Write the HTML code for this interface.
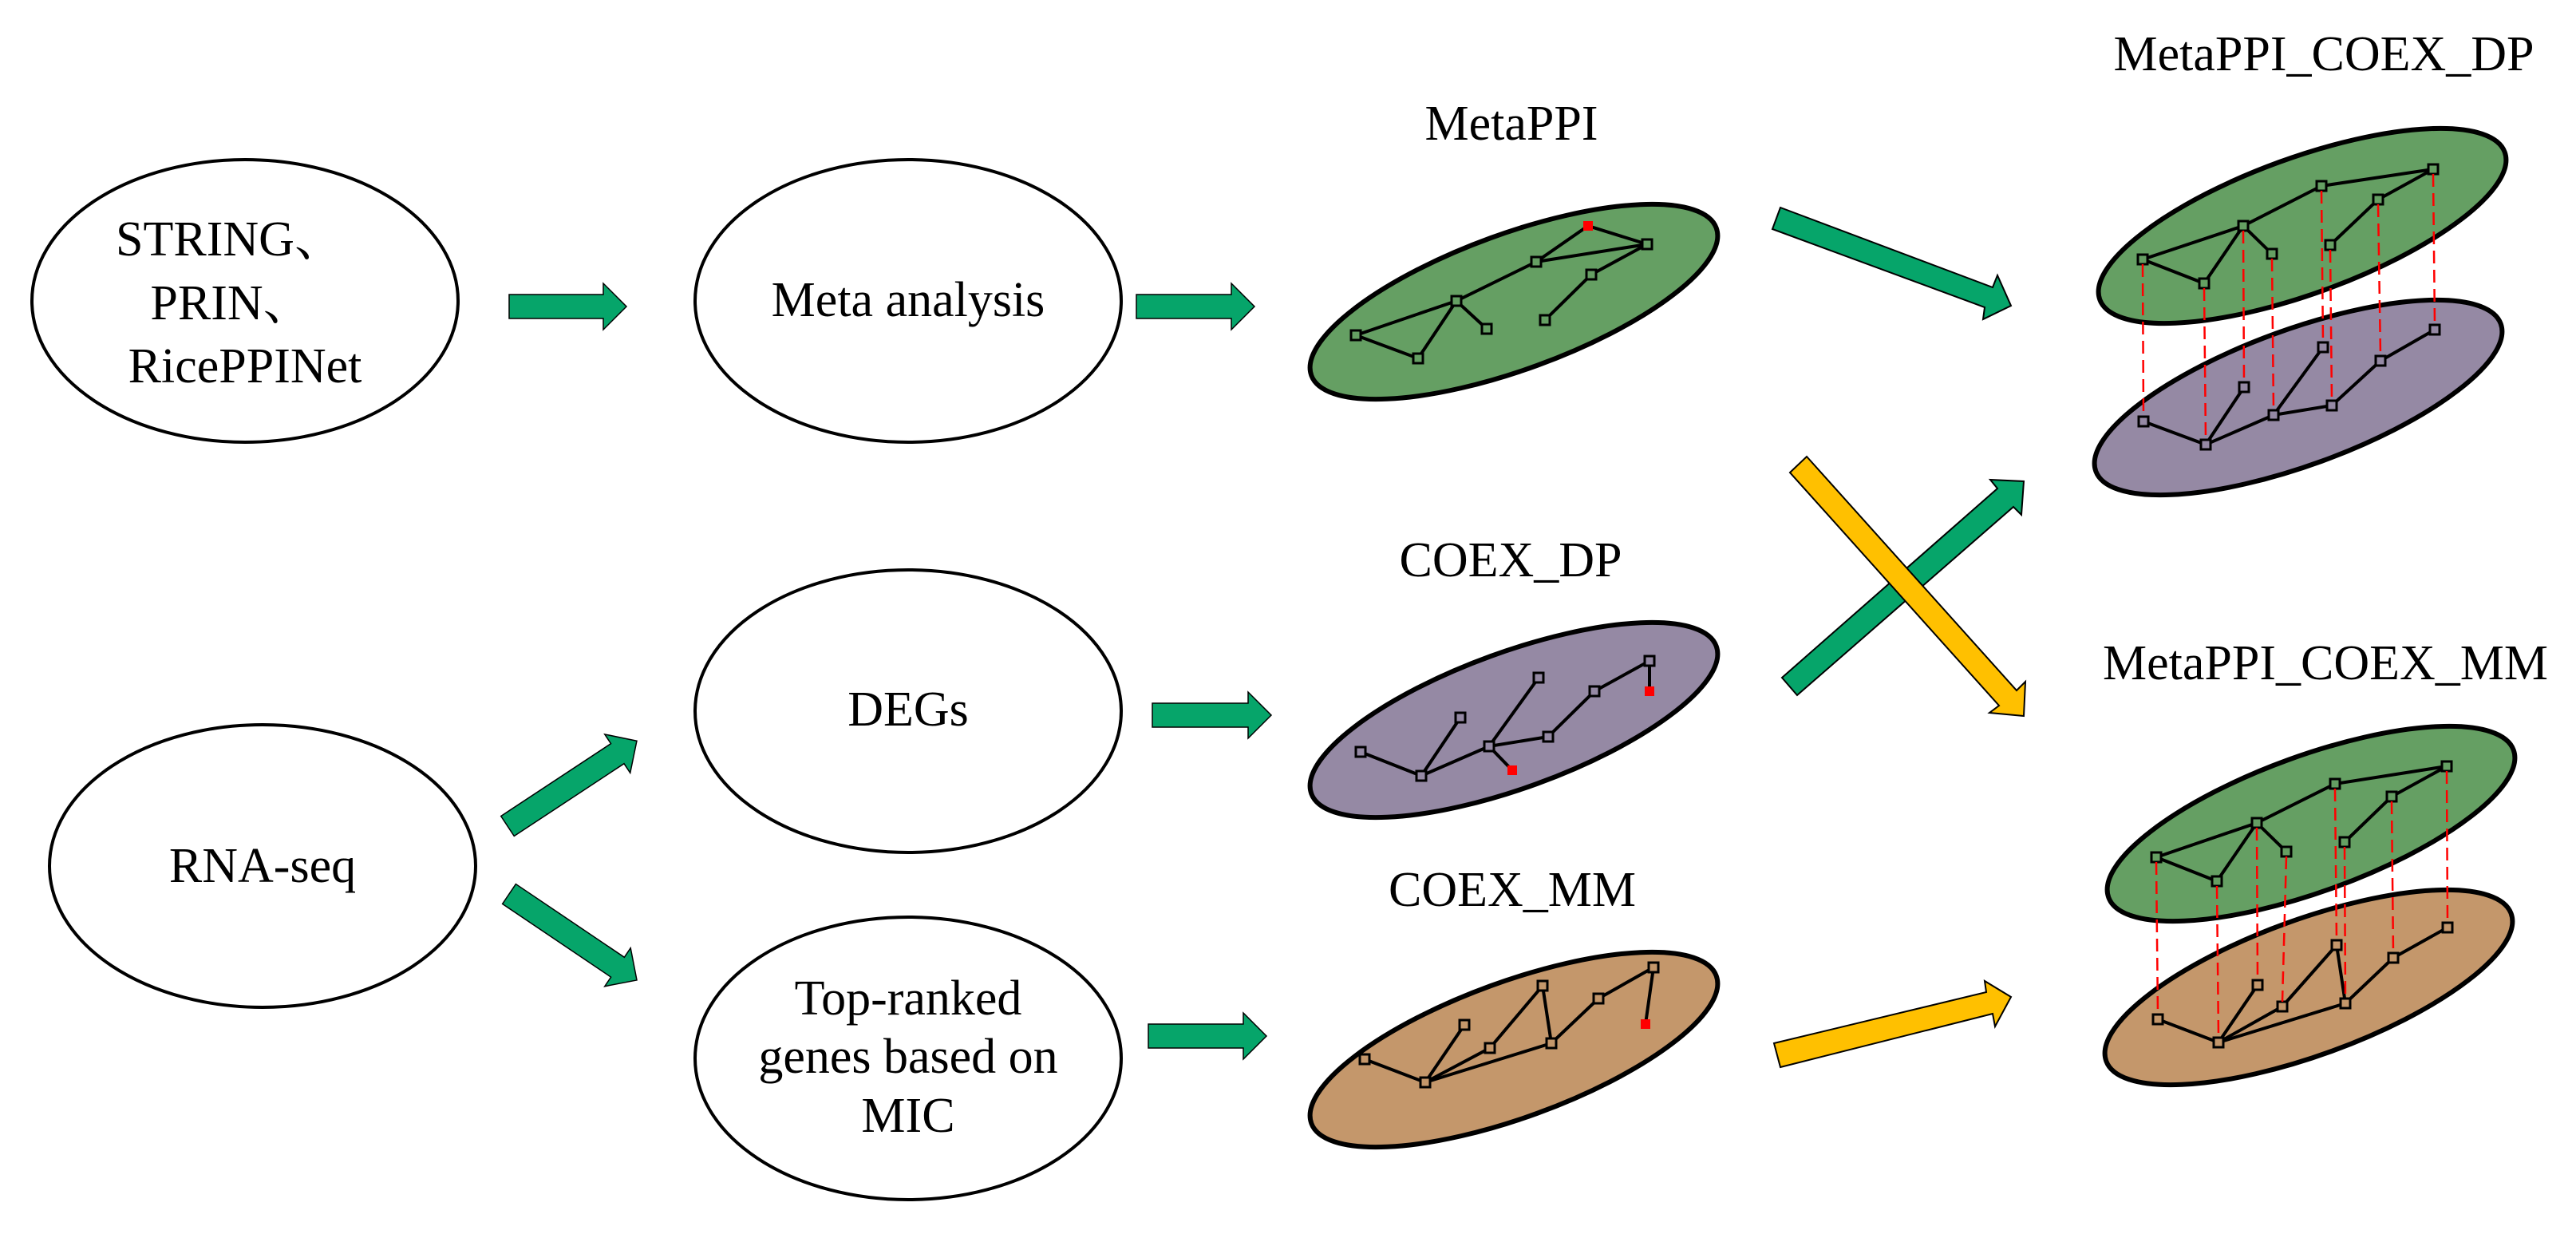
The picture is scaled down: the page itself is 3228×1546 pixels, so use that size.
<!DOCTYPE html>
<html><head><meta charset="utf-8"><style>
html,body{margin:0;padding:0;background:#fff;}
svg{display:block;}
text{font-family:"Liberation Serif","Noto Serif CJK SC",serif;font-size:62px;fill:#000;}
</style></head><body>
<svg width="3228" height="1546" viewBox="0 0 3228 1546" xmlns="http://www.w3.org/2000/svg">
<g fill="#fff" stroke="#000" stroke-width="4">
<ellipse cx="307" cy="377" rx="267" ry="177"/>
<ellipse cx="1138" cy="377" rx="267" ry="177"/>
<ellipse cx="1138" cy="891" rx="267" ry="177"/>
<ellipse cx="329" cy="1085" rx="267" ry="177"/>
<ellipse cx="1138" cy="1326" rx="267" ry="177"/>
</g>
<text x="288" y="320" text-anchor="middle">STRING、</text>
<text x="290" y="400" text-anchor="middle">PRIN、</text>
<text x="307" y="479" text-anchor="middle">RicePPINet</text>
<text x="1138" y="396" text-anchor="middle">Meta analysis</text>
<text x="1138" y="909" text-anchor="middle">DEGs</text>
<text x="329" y="1105" text-anchor="middle">RNA-seq</text>
<text x="1138" y="1271" text-anchor="middle">Top-ranked</text>
<text x="1138" y="1344" text-anchor="middle">genes based on</text>
<text x="1138" y="1418" text-anchor="middle">MIC</text>

<text x="1894" y="175" text-anchor="middle">MetaPPI</text>
<text x="1893" y="722" text-anchor="middle">COEX_DP</text>
<text x="1895" y="1135" text-anchor="middle">COEX_MM</text>
<text x="2912" y="88" text-anchor="middle">MetaPPI_COEX_DP</text>
<text x="2914" y="851" text-anchor="middle">MetaPPI_COEX_MM</text>

<!-- small green arrows -->
<g fill="#06a56a" stroke="#000" stroke-width="1.5">
<g transform="translate(638,384)"><polygon points="0,-15 118,-15 118,-29 147,0 118,29 118,15 0,15"/></g>
<g transform="translate(1424,384)"><polygon points="0,-15 119,-15 119,-29 148,0 119,29 119,15 0,15"/></g>
<g transform="translate(1444,896)"><polygon points="0,-15 120,-15 120,-29 149,0 120,29 120,15 0,15"/></g>
<g transform="translate(1439,1298)"><polygon points="0,-15 119,-15 119,-29 148,0 119,29 119,15 0,15"/></g>
<g transform="translate(636,1035) rotate(-33.4)"><polygon points="0,-15 165,-15 165,-29 194,0 165,29 165,15 0,15"/></g>
<g transform="translate(638,1120) rotate(34)"><polygon points="0,-15 164,-15 164,-29 193,0 164,29 164,15 0,15"/></g>
</g>

<!-- big arrows -->
<polygon fill="#06a56a" stroke="#000" stroke-width="2" points="2231,260 2497,360 2503,345 2520,383 2485,400 2487,385 2221,287"/>
<polygon fill="#06a56a" stroke="#000" stroke-width="2" points="2233,849 2503,612 2494,601 2536,603 2533,645 2523,635 2252,871"/>
<polygon fill="#ffc000" stroke="#000" stroke-width="2" points="2243,592 2264,572 2527,865 2538,854 2536,897 2493,893 2505,884"/>
<polygon fill="#ffc000" stroke="#000" stroke-width="2" points="2223,1307 2489,1243 2487,1229 2520,1249 2500,1286 2497,1270 2231,1337"/>

<!-- graph ellipses -->
<g stroke="#000" stroke-width="6">
<ellipse cx="1897" cy="378" rx="270" ry="85" transform="rotate(-20 1897 378)" fill="#659f63"/>
<ellipse cx="1897" cy="902" rx="270" ry="85" transform="rotate(-20 1897 902)" fill="#9589a4"/>
<ellipse cx="1897" cy="1315" rx="270" ry="85" transform="rotate(-20 1897 1315)" fill="#c4976b"/>
<ellipse cx="2880" cy="498" rx="270" ry="85" transform="rotate(-20 2880 498)" fill="#9589a4"/>
<ellipse cx="2885" cy="283" rx="270" ry="85" transform="rotate(-20 2885 283)" fill="#659f63"/>
<ellipse cx="2893" cy="1237" rx="270" ry="85" transform="rotate(-20 2893 1237)" fill="#c4976b"/>
<ellipse cx="2896" cy="1032" rx="270" ry="85" transform="rotate(-20 2896 1032)" fill="#659f63"/>
</g>

<!-- MetaPPI graph -->
<g stroke="#000" stroke-width="4" fill="none">
<polyline points="1699,420 1825,377 1925,328 1990,283 2064,306 1925,328"/>
<polyline points="1699,420 1777,449 1825,377 1863,412"/>
<polyline points="2064,306 1994,344 1936,401"/>
</g>
<g stroke="#000" stroke-width="3" fill="#659f63">
<rect x="1693" y="414" width="12" height="12"/><rect x="1771" y="443" width="12" height="12"/>
<rect x="1819" y="371" width="12" height="12"/><rect x="1857" y="406" width="12" height="12"/>
<rect x="1919" y="322" width="12" height="12"/><rect x="2058" y="300" width="12" height="12"/>
<rect x="1988" y="338" width="12" height="12"/><rect x="1930" y="395" width="12" height="12"/>
</g>
<rect x="1984" y="277" width="12" height="12" fill="#f00"/>

<!-- COEX_DP graph -->
<g stroke="#000" stroke-width="4" fill="none">
<polyline points="1705,942 1781,972 1830,899"/>
<polyline points="1781,972 1866,935 1928,849"/>
<polyline points="1895,965 1866,935 1940,923 1998,866 2067,828 2067,866"/>
</g>
<g stroke="#000" stroke-width="3" fill="#9589a4">
<rect x="1699" y="936" width="12" height="12"/><rect x="1775" y="966" width="12" height="12"/>
<rect x="1824" y="893" width="12" height="12"/><rect x="1860" y="929" width="12" height="12"/>
<rect x="1922" y="843" width="12" height="12"/><rect x="1934" y="917" width="12" height="12"/>
<rect x="1992" y="860" width="12" height="12"/><rect x="2061" y="822" width="12" height="12"/>
</g>
<rect x="1889" y="959" width="12" height="12" fill="#f00"/>
<rect x="2061" y="860" width="12" height="12" fill="#f00"/>

<!-- COEX_MM graph -->
<g stroke="#000" stroke-width="4" fill="none">
<polyline points="1710,1327 1786,1356 1835,1284"/>
<polyline points="1786,1356 1867,1313 1933,1235 1944,1307 2003,1251 2072,1212 2062,1283"/>
<polyline points="1786,1356 1944,1307"/>
</g>
<g stroke="#000" stroke-width="3" fill="#c4976b">
<rect x="1704" y="1321" width="12" height="12"/><rect x="1780" y="1350" width="12" height="12"/>
<rect x="1829" y="1278" width="12" height="12"/><rect x="1861" y="1307" width="12" height="12"/>
<rect x="1927" y="1229" width="12" height="12"/><rect x="1938" y="1301" width="12" height="12"/>
<rect x="1997" y="1245" width="12" height="12"/><rect x="2066" y="1206" width="12" height="12"/>
</g>
<rect x="2056" y="1277" width="12" height="12" fill="#f00"/>

<!-- MetaPPI_COEX_DP: bottom purple graph -->
<g stroke="#000" stroke-width="4" fill="none">
<polyline points="3051,413 2983,452 2922,508 2849,520 2911,435"/>
<polyline points="2849,520 2764,557 2812,485"/>
<polyline points="2764,557 2686,528"/>
</g>
<g stroke="#000" stroke-width="3" fill="#9589a4">
<rect x="3045" y="407" width="12" height="12"/><rect x="2905" y="429" width="12" height="12"/>
<rect x="2977" y="446" width="12" height="12"/><rect x="2806" y="479" width="12" height="12"/>
<rect x="2916" y="502" width="12" height="12"/><rect x="2843" y="514" width="12" height="12"/>
<rect x="2680" y="522" width="12" height="12"/><rect x="2758" y="551" width="12" height="12"/>
</g>
<!-- top green graph -->
<g stroke="#000" stroke-width="4" fill="none">
<polyline points="3049,212 2909,233 2811,283 2685,325 2762,355 2811,283 2847,318"/>
<polyline points="3049,212 2980,250 2920,307"/>
</g>
<g stroke="#000" stroke-width="3" fill="#659f63">
<rect x="3043" y="206" width="12" height="12"/><rect x="2903" y="227" width="12" height="12"/>
<rect x="2974" y="244" width="12" height="12"/><rect x="2805" y="277" width="12" height="12"/>
<rect x="2914" y="301" width="12" height="12"/><rect x="2841" y="312" width="12" height="12"/>
<rect x="2679" y="319" width="12" height="12"/><rect x="2756" y="349" width="12" height="12"/>
</g>
<g stroke="#f00" stroke-width="2.5" stroke-dasharray="16,8" fill="none">
<line x1="2685" y1="331" x2="2686" y2="522"/><line x1="2762" y1="361" x2="2764" y2="551"/>
<line x1="2811" y1="289" x2="2812" y2="479"/><line x1="2847" y1="324" x2="2849" y2="514"/>
<line x1="2909" y1="239" x2="2911" y2="429"/><line x1="2920" y1="313" x2="2922" y2="502"/>
<line x1="2980" y1="256" x2="2983" y2="446"/><line x1="3049" y1="218" x2="3051" y2="407"/>
</g>

<!-- MetaPPI_COEX_MM: bottom brown -->
<g stroke="#000" stroke-width="4" fill="none">
<polyline points="3067,1162 2999,1200 2939,1257 2928,1184 2860,1261 2780,1306 2829,1234"/>
<polyline points="2780,1306 2939,1257"/>
<polyline points="2780,1306 2704,1277"/>
</g>
<g stroke="#000" stroke-width="3" fill="#c4976b">
<rect x="3061" y="1156" width="12" height="12"/><rect x="2922" y="1178" width="12" height="12"/>
<rect x="2993" y="1194" width="12" height="12"/><rect x="2823" y="1228" width="12" height="12"/>
<rect x="2933" y="1251" width="12" height="12"/><rect x="2854" y="1255" width="12" height="12"/>
<rect x="2698" y="1271" width="12" height="12"/><rect x="2774" y="1300" width="12" height="12"/>
</g>
<g stroke="#000" stroke-width="4" fill="none">
<polyline points="3066,960 2926,982 2828,1031 2702,1074 2778,1104 2828,1031 2865,1067"/>
<polyline points="3066,960 2997,998 2938,1055"/>
</g>
<g stroke="#000" stroke-width="3" fill="#659f63">
<rect x="3060" y="954" width="12" height="12"/><rect x="2920" y="976" width="12" height="12"/>
<rect x="2991" y="992" width="12" height="12"/><rect x="2822" y="1025" width="12" height="12"/>
<rect x="2932" y="1049" width="12" height="12"/><rect x="2859" y="1061" width="12" height="12"/>
<rect x="2696" y="1068" width="12" height="12"/><rect x="2772" y="1098" width="12" height="12"/>
</g>
<g stroke="#f00" stroke-width="2.5" stroke-dasharray="16,8" fill="none">
<line x1="2702" y1="1080" x2="2704" y2="1271"/><line x1="2778" y1="1110" x2="2780" y2="1300"/>
<line x1="2828" y1="1037" x2="2829" y2="1228"/><line x1="2865" y1="1073" x2="2860" y2="1255"/>
<line x1="2926" y1="988" x2="2928" y2="1178"/><line x1="2938" y1="1061" x2="2939" y2="1251"/>
<line x1="2997" y1="1004" x2="2999" y2="1194"/><line x1="3066" y1="966" x2="3067" y2="1156"/>
</g>
</svg>
</body></html>
